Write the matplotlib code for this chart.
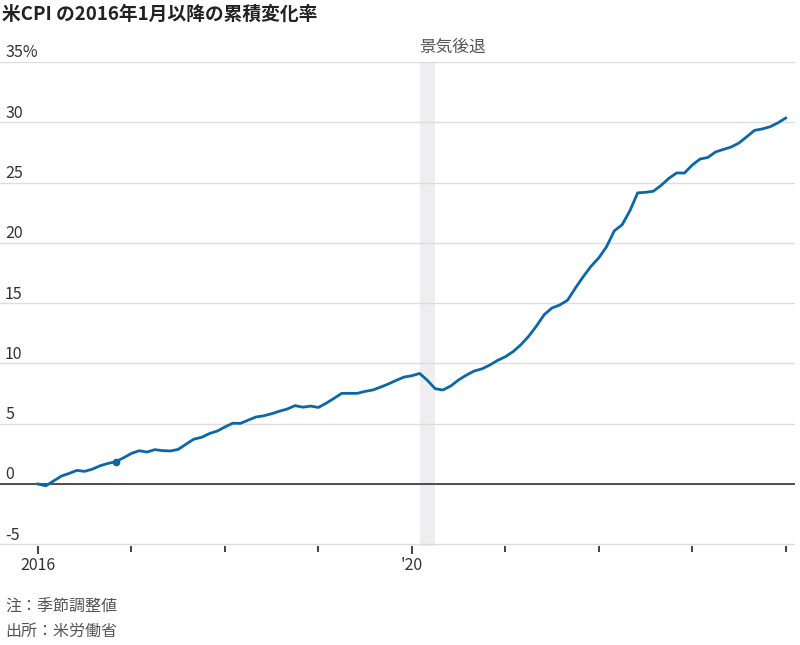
import numpy as np
import matplotlib.pyplot as plt
from matplotlib.transforms import blended_transform_factory

plt.rcParams['font.family'] = ['Noto Sans CJK JP', 'DejaVu Sans']

# Cumulative change in US CPI since Jan 2016 (%), monthly Jan 2016 - Jan 2024
cpi_change = [
    0.0, -0.15, 0.25, 0.66, 0.88, 1.13, 1.05, 1.24, 1.52, 1.71, 1.85, 2.18,    # 2016
    2.54, 2.76, 2.65, 2.85, 2.77, 2.74, 2.87, 3.30, 3.72, 3.87, 4.18, 4.39,    # 2017
    4.73, 5.04, 5.03, 5.30, 5.56, 5.66, 5.83, 6.04, 6.22, 6.50, 6.37, 6.46,    # 2018
    6.35, 6.70, 7.10, 7.52, 7.52, 7.52, 7.68, 7.80, 8.04, 8.30, 8.60, 8.87,    # 2019
    8.98, 9.17, 8.60, 7.90, 7.80, 8.13, 8.63, 9.03, 9.37, 9.55, 9.86, 10.25,   # 2020
    10.55, 10.98, 11.55, 12.25, 13.10, 14.05, 14.60, 14.85, 15.25, 16.25, 17.19, 18.05,  # 2021
    18.75, 19.68, 21.00, 21.50, 22.66, 24.15, 24.19, 24.28, 24.76, 25.35, 25.80, 25.79,  # 2022
    26.45, 26.95, 27.08, 27.54, 27.75, 27.95, 28.28, 28.80, 29.33, 29.45, 29.63, 29.95,  # 2023
    30.35,                                                                     # 2024
]
months = np.arange(len(cpi_change))   # months since Jan 2016

year_ticks = np.arange(0, 97, 12)
year_labels = ['2016', '', '', '', "'20", '', '', '', '']
y_ticks = [-5, 0, 5, 10, 15, 20, 25, 30, 35]
y_labels = ['-5', '0', '5', '10', '15', '20', '25', '30', '35%']

recession = (49, 51)   # Feb 2020 - Apr 2020
highlight = 10         # Nov 2016

fig = plt.figure(figsize=(8, 6.45), dpi=100)
ax = fig.add_axes([0, 1 - 545.5 / 645, 795 / 800, (545.5 - 62) / 645])

ax.set_xlim(-4.88, 97.2)
ax.set_ylim(-5.1, 35)

# recession shading
ax.axvspan(recession[0], recession[1], color='#eeeef1', lw=0, zorder=0)
ax.text(recession[0], 35.5, '景気後退', fontsize=12, color='#555555',
        ha='left', va='bottom')

# grid
ax.set_yticks(y_ticks)
ax.tick_params(axis='y', left=False, labelleft=False)
ax.grid(axis='y', color='#dddddd', linewidth=1, zorder=1)
ax.axhline(0, color='#333333', linewidth=1.2, zorder=2)

trans = blended_transform_factory(ax.transAxes, ax.transData)
for val, lab in zip(y_ticks, y_labels):
    ax.text(5 / 795, val + 0.05, lab, transform=trans, fontsize=11.5,
            color='#333333', ha='left', va='bottom')

# line
ax.plot(months, cpi_change, color='#0b68a8', linewidth=2, zorder=3,
        solid_joinstyle='round')
ax.plot(months[highlight], cpi_change[highlight], 'o', color='#0b68a8',
        markersize=4.5, zorder=4)

# x axis
ax.set_xticks(year_ticks)
ax.set_xticklabels(year_labels, fontsize=11.5, color='#333333')
ax.tick_params(axis='x', length=4, width=1.3, color='#333333', pad=4)
for t, lab in zip(ax.xaxis.get_major_ticks(), year_labels):
    if lab:
        t.tick1line.set_markersize(6)

for s in ax.spines.values():
    s.set_visible(False)

fig.text(2 / 800, 1 - 14 / 645, '米CPI の2016年1月以降の累積変化率',
         fontsize=13.5, fontweight='bold', color='#222222', ha='left', va='center')
fig.text(5 / 800, 1 - 607 / 645, '注：季節調整値', fontsize=11.5,
         color='#555555', ha='left', va='center')
fig.text(5 / 800, 1 - 631 / 645, '出所：米労働省', fontsize=11.5,
         color='#555555', ha='left', va='center')

fig.savefig('out.png', dpi=100)
